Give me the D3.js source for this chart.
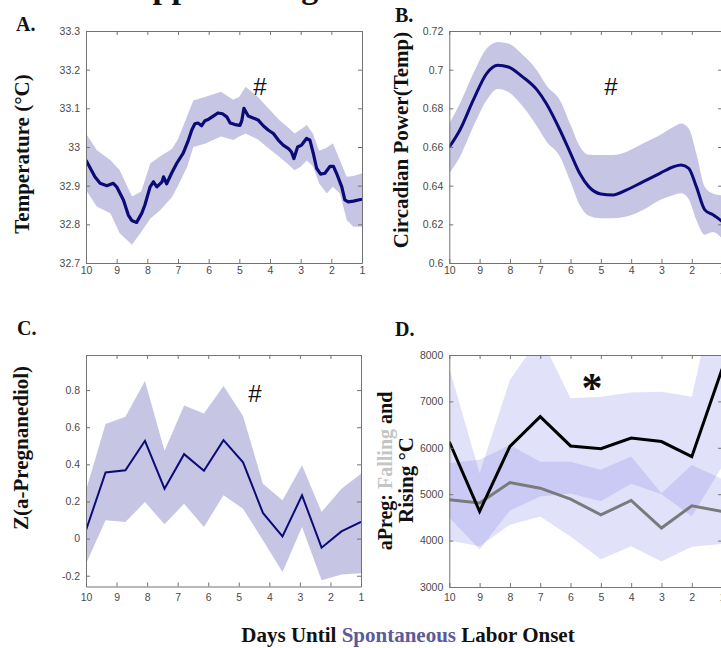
<!DOCTYPE html>
<html>
<head>
<meta charset="utf-8">
<script src="https://cdn.jsdelivr.net/npm/d3@7"></script>
<style>
  body { margin: 0; background: #fff; }
  svg { display: block; }
</style>
</head>
<body>
<script>
var width = 721,
    height = 648;

// shared x ticks: days until labor onset (axis runs 10 -> 1)
var dayTicks = [10, 9, 8, 7, 6, 5, 4, 3, 2, 1];

// A. skin temperature
var tempDays = [10, 9.71, 9.54, 9.32, 9.11, 9.0, 8.78, 8.62, 8.51, 8.35, 8.18, 8.08, 7.91, 7.8, 7.69, 7.52, 7.47, 7.37, 7.21, 7.04,
    6.83, 6.66, 6.55, 6.45, 6.35, 6.23, 6.12, 6.0, 5.85, 5.7, 5.55, 5.41, 5.3, 5.14, 4.98, 4.92, 4.85, 4.71, 4.55, 4.39,
    4.22, 4.06, 3.89, 3.73, 3.57, 3.4, 3.3, 3.22, 3.1, 2.97, 2.81, 2.7, 2.59, 2.48, 2.35, 2.21, 2.04, 1.93, 1.83, 1.66,
    1.56, 1.45, 1.28, 1.12, 1.0];
var tempMean = [32.966, 32.923, 32.906, 32.9, 32.906, 32.897, 32.863, 32.824, 32.81, 32.805, 32.829, 32.85, 32.897, 32.91, 32.897, 32.91, 32.923, 32.905, 32.932, 32.958,
    32.984, 33.018, 33.044, 33.06, 33.062, 33.055, 33.068, 33.072, 33.08, 33.088, 33.086, 33.078, 33.062, 33.058, 33.056, 33.068, 33.1, 33.08, 33.075, 33.07,
    33.055, 33.044, 33.035, 33.018, 33.005, 32.996, 32.987, 32.97, 33.0, 33.005, 33.022, 33.018, 32.984, 32.945, 32.93, 32.932, 32.95, 32.95, 32.932, 32.897,
    32.863, 32.858, 32.86, 32.863, 32.865];
var tempBandDays = [10, 9.65, 9.2, 8.9, 8.5, 8.2, 7.9, 7.6, 7.2, 7.0, 6.7, 6.5, 6.1, 5.6, 5.2, 5.0, 4.8, 4.4, 4.1, 3.7,
    3.4, 3.2, 3.0, 2.8, 2.6, 2.4, 2.15, 1.95, 1.72, 1.5, 1.28, 1.0];
var tempUpper = [33.035, 32.992, 32.966, 32.94, 32.872, 32.885, 32.958, 32.975, 32.995, 33.02, 33.08, 33.12, 33.13, 33.143, 33.122, 33.13, 33.156, 33.13, 33.104, 33.07,
    33.05, 33.035, 33.045, 33.057, 33.035, 32.99, 32.998, 33.01, 32.966, 32.923, 32.925, 32.932];
var tempLower = [32.889, 32.846, 32.828, 32.777, 32.747, 32.78, 32.815, 32.835, 32.87, 32.9, 32.949, 33.0, 33.009, 33.027, 33.018, 33.027, 33.035, 33.02, 33.0, 32.975,
    32.955, 32.94, 32.949, 32.965, 32.95, 32.906, 32.88, 32.897, 32.88, 32.811, 32.794, 32.794];
var tempTicks = [32.7, 32.8, 32.9, 33, 33.1, 33.2, 33.3];

// B. circadian power of temperature
var powerDays = [10, 9.65, 9.21, 8.77, 8.4, 8.05, 7.6, 7.1, 6.8, 6.35, 6.0, 5.7, 5.4, 5.0, 4.6, 4.15, 3.6, 3.05, 2.6, 2.35, 2.1, 1.85, 1.57, 1.3, 1.0];
var powerMean = [0.66, 0.6688, 0.6842, 0.698, 0.7023, 0.7014, 0.6965, 0.6894, 0.6825, 0.6688, 0.6567, 0.6464, 0.6395, 0.6357, 0.6352, 0.6378, 0.6421, 0.6464, 0.6498, 0.6507, 0.649, 0.6395, 0.6275, 0.6249, 0.6215];
var powerUpper = [0.6722, 0.6825, 0.698, 0.7109, 0.7143, 0.7135, 0.708, 0.6995, 0.692, 0.6842, 0.6715, 0.6605, 0.656, 0.6559, 0.6559, 0.6576, 0.6619, 0.6662, 0.6705, 0.6722, 0.6696, 0.6567, 0.6395, 0.636, 0.635];
var powerLower = [0.6464, 0.655, 0.6705, 0.6842, 0.69, 0.6885, 0.6815, 0.6705, 0.663, 0.655, 0.642, 0.63, 0.6245, 0.6232, 0.6232, 0.624, 0.6275, 0.6326, 0.6352, 0.6361, 0.633, 0.6223, 0.6146, 0.616, 0.6125];
var powerTicks = [0.6, 0.62, 0.64, 0.66, 0.68, 0.7, 0.72];

// C. z-scored a-pregnanediol
var pregDays = [10, 9.36, 8.71, 8.07, 7.43, 6.79, 6.14, 5.5, 4.86, 4.21, 3.57, 2.93, 2.29, 1.64, 1];
var pregMean = [0.045, 0.356, 0.368, 0.527, 0.269, 0.455, 0.365, 0.53, 0.411, 0.138, 0.012, 0.233, -0.049, 0.039, 0.09];
var pregUpper = [0.26, 0.617, 0.656, 0.849, 0.473, 0.717, 0.674, 0.822, 0.661, 0.296, 0.206, 0.395, 0.143, 0.269, 0.35];
var pregLower = [-0.135, 0.099, 0.09, 0.197, 0.077, 0.188, 0.063, 0.233, 0.161, -0.009, -0.18, 0.063, -0.225, -0.193, -0.186];
var pregTicks = [-0.2, 0, 0.2, 0.4, 0.6, 0.8];

// D. aPreg for falling vs rising temperature
var dDays = [10, 9, 8, 7, 6, 5, 4, 3, 2, 1];
var rising = [6130, 4630, 6030, 6670, 6040, 5980, 6210, 6135, 5810, 7700];
var risingUpper = [7720, 5450, 7460, 8400, 7070, 7100, 7190, 7210, 7100, 10000];
var risingLower = [4500, 3810, 4650, 4950, 5015, 4850, 5225, 5000, 4520, 5600];
var falling = [4880, 4810, 5250, 5130, 4895, 4555, 4865, 4270, 4750, 4630];
var fallingUpper = [5670, 5740, 6060, 5700, 5700, 5525, 5810, 5020, 5630, 5330];
var fallingLower = [4000, 3880, 4340, 4520, 4090, 3600, 3880, 3550, 3870, 3930];
var dTicks = [3000, 4000, 5000, 6000, 7000, 8000];

var navy = "#0b0b78",
    bandColor = "#c6c6e4",
    axisColor = "#737373",
    tickColor = "#4a4a4a",
    serif = "'Liberation Serif', 'Times New Roman', serif",
    sans = "'Liberation Sans', Arial, sans-serif";

var svg = d3.select("body").append("svg")
    .attr("width", width)
    .attr("height", height)
    .attr("viewBox", [0, 0, width, height]);

function makePanel(p) {
    var x = d3.scaleLinear().domain([10, 1]).range([p.left, p.right]);
    var y = d3.scaleLinear().domain(p.yDomain).range([p.bottom, p.top]);

    svg.append("clipPath").attr("id", "clip-" + p.id)
        .append("rect")
        .attr("x", p.left).attr("y", p.top)
        .attr("width", p.right - p.left).attr("height", p.bottom - p.top);

    var plot = svg.append("g").attr("clip-path", "url(#clip-" + p.id + ")");
    var axes = svg.append("g");

    var bottom = axes.append("g")
        .attr("transform", "translate(0," + p.bottom + ")")
        .call(d3.axisBottom(x).tickValues(dayTicks).tickSizeInner(-4).tickSizeOuter(0)
            .tickPadding(p.xPad).tickFormat(function (d) { return d; }));
    var top = axes.append("g")
        .attr("transform", "translate(0," + p.top + ")")
        .call(d3.axisTop(x).tickValues(dayTicks).tickSizeInner(-4).tickSizeOuter(0).tickFormat(""));
    var left = axes.append("g")
        .attr("transform", "translate(" + p.left + ",0)")
        .call(d3.axisLeft(y).tickValues(p.yTicks).tickSizeInner(-4).tickSizeOuter(0)
            .tickPadding(6).tickFormat(function (d) { return String(d); }));
    var right = axes.append("g")
        .attr("transform", "translate(" + p.right + ",0)")
        .call(d3.axisRight(y).tickValues(p.yTicks).tickSizeInner(-4).tickSizeOuter(0).tickFormat(""));

    [bottom, top, left, right].forEach(function (a) {
        a.attr("font-family", sans).attr("font-size", 10.5);
        a.select(".domain").attr("stroke", axisColor);
        a.selectAll(".tick line").attr("stroke", axisColor);
        a.selectAll(".tick text").attr("fill", tickColor);
    });

    return { x: x, y: y, plot: plot };
}

function band(panel, days, lo, hi, curve) {
    return d3.area()
        .x(function (d, i) { return panel.x(days[i]); })
        .y0(function (d, i) { return panel.y(lo[i]); })
        .y1(function (d, i) { return panel.y(hi[i]); })
        .curve(curve || d3.curveLinear)(days);
}

function line(panel, days, vals, curve) {
    return d3.line()
        .x(function (d, i) { return panel.x(days[i]); })
        .y(function (d, i) { return panel.y(vals[i]); })
        .curve(curve || d3.curveLinear)(days);
}

// ---- A ----
var pA = makePanel({ id: "a", left: 86, right: 362, top: 31, bottom: 263, yDomain: [32.7, 33.3], yTicks: tempTicks, xPad: 4 });
pA.plot.append("path").attr("d", band(pA, tempBandDays, tempLower, tempUpper)).attr("fill", bandColor);
pA.plot.append("path").attr("d", line(pA, tempDays, tempMean))
    .attr("fill", "none").attr("stroke", navy).attr("stroke-width", 3.2).attr("stroke-linejoin", "round");

// ---- B ----
var pB = makePanel({ id: "b", left: 449.3, right: 722.1, top: 31, bottom: 263, yDomain: [0.6, 0.72], yTicks: powerTicks, xPad: 4 });
pB.plot.append("path").attr("d", band(pB, powerDays, powerLower, powerUpper, d3.curveMonotoneX)).attr("fill", bandColor);
pB.plot.append("path").attr("d", line(pB, powerDays, powerMean, d3.curveMonotoneX))
    .attr("fill", "none").attr("stroke", navy).attr("stroke-width", 3);

// ---- C ----
var pC = makePanel({ id: "c", left: 86, right: 361, top: 355, bottom: 586.5, yDomain: [-0.258, 0.989], yTicks: pregTicks, xPad: 7 });
pC.plot.append("path").attr("d", band(pC, pregDays, pregLower, pregUpper)).attr("fill", bandColor);
pC.plot.append("path").attr("d", line(pC, pregDays, pregMean))
    .attr("fill", "none").attr("stroke", navy).attr("stroke-width", 2);

// ---- D ----
var pD = makePanel({ id: "d", left: 449.3, right: 722.1, top: 355, bottom: 587, yDomain: [3000, 8000], yTicks: dTicks, xPad: 7 });
pD.plot.append("path").attr("d", band(pD, dDays, risingLower, risingUpper))
    .attr("fill", "#8a8ae6").attr("fill-opacity", 0.26);
pD.plot.append("path").attr("d", band(pD, dDays, fallingLower, fallingUpper))
    .attr("fill", "#8a8ae6").attr("fill-opacity", 0.26);
pD.plot.append("path").attr("d", line(pD, dDays, falling))
    .attr("fill", "none").attr("stroke", "#7a7a7a").attr("stroke-width", 3);
pD.plot.append("path").attr("d", line(pD, dDays, rising))
    .attr("fill", "none").attr("stroke", "#000").attr("stroke-width", 3);

// ---- text ----
var txt = svg.append("g").attr("font-family", serif).attr("font-weight", "bold").attr("fill", "#111");

// clipped figure title at the very top
txt.append("text").attr("x", 128).attr("y", -2).attr("font-size", 34).text("Approaching Labor");

txt.append("text").attr("x", 16).attr("y", 31).attr("font-size", 20).text("A.");
txt.append("text").attr("x", 395).attr("y", 22).attr("font-size", 20).text("B.");
txt.append("text").attr("x", 17).attr("y", 335).attr("font-size", 20).text("C.");
txt.append("text").attr("x", 395).attr("y", 336).attr("font-size", 20).text("D.");

function ylabel(x, y, size) {
    return txt.append("text")
        .attr("transform", "translate(" + x + "," + y + ") rotate(-90)")
        .attr("text-anchor", "middle")
        .attr("font-size", size);
}
ylabel(29, 154, 21).text("Temperature (°C)");
ylabel(408, 140, 21).text("Circadian Power(Temp)");
ylabel(28, 448, 21).text("Z(a-Pregnanediol)");
var dl1 = ylabel(392, 471, 20);
dl1.append("tspan").text("aPreg: ");
dl1.append("tspan").attr("fill", "#c4c4c4").text("Falling");
dl1.append("tspan").text(" and");
ylabel(413, 480, 21).text("Rising °C");

var xl = txt.append("text").attr("x", 408).attr("y", 642).attr("text-anchor", "middle").attr("font-size", 21);
xl.append("tspan").text("Days Until ");
xl.append("tspan").attr("fill", "#5b5a9c").text("Spontaneous");
xl.append("tspan").text(" Labor Onset");

// significance marks
var mk = svg.append("g").attr("fill", "#111");
mk.append("text").attr("x", 260).attr("y", 95).attr("text-anchor", "middle").attr("font-family", sans).attr("font-size", 24).text("#");
mk.append("text").attr("x", 611).attr("y", 95).attr("text-anchor", "middle").attr("font-family", sans).attr("font-size", 24).text("#");
mk.append("text").attr("x", 255).attr("y", 402).attr("text-anchor", "middle").attr("font-family", sans).attr("font-size", 24).text("#");
mk.append("text").attr("x", 592).attr("y", 402).attr("text-anchor", "middle").attr("font-family", serif).attr("font-weight", "bold").attr("font-size", 42).text("*");
</script>
</body>
</html>
